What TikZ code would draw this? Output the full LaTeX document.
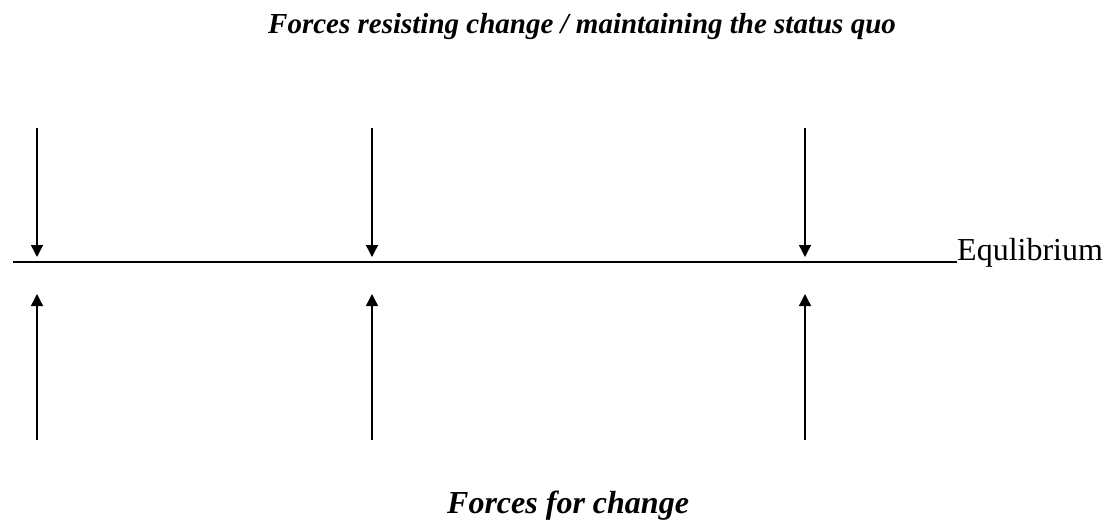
\documentclass[tikz,border=0pt]{standalone}
\usepackage{fontspec}
\setmainfont{Liberation Serif}
\usetikzlibrary{arrows.meta}
\tikzset{
  force/.style={line width=1.4pt, -{Triangle[length=12pt,width=12pt]}},
  eqline/.style={line width=1.4pt},
  heading/.style={inner sep=0pt, anchor=base west, font=\fontsize{29}{35}\selectfont\bfseries\itshape},
  subheading/.style={inner sep=0pt, anchor=base west, font=\fontsize{32}{38}\selectfont\bfseries\itshape},
  label/.style={inner sep=0pt, anchor=base west, font=\fontsize{32}{38}\selectfont}
}
\begin{document}
\begin{tikzpicture}[x=1pt,y=-1pt]
\useasboundingbox (0,0) rectangle (1107,522);
\node[heading] (top) at (268,33) {Forces resisting change / maintaining the status quo};
\node[subheading] (bottom) at (447,513) {Forces for change};
\coordinate (ls) at (13,262);
\coordinate (le) at (957,262);
\node[label] (eq) at (957,260) {Equlibrium};
\draw[eqline] (ls) -- (le);
\foreach \i/\x in {1/37,2/372,3/805}{
  \coordinate (d\i s) at (\x,128);
  \coordinate (d\i e) at (\x,257);
  \coordinate (u\i s) at (\x,440);
  \coordinate (u\i e) at (\x,294);
  \draw[force] (d\i s) -- (d\i e);
  \draw[force] (u\i s) -- (u\i e);
}
\end{tikzpicture}
\end{document}
